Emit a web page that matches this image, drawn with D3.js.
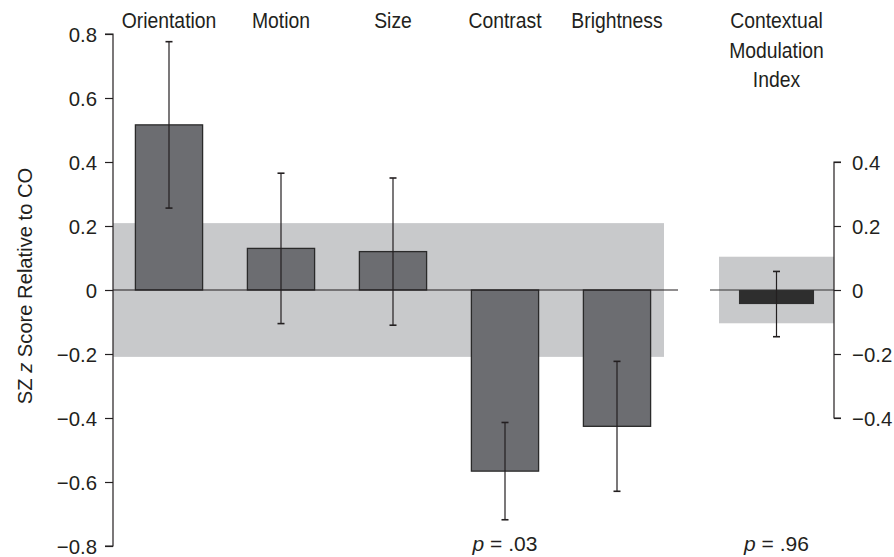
<!DOCTYPE html>
<html>
<head>
<meta charset="utf-8">
<script src="https://cdn.jsdelivr.net/npm/d3@7"></script>
<style>
  body { margin: 0; background: #fff; }
  svg text { font-family: "Liberation Sans", Arial, sans-serif; fill: #231f20; }
</style>
</head>
<body>
<div id="chart"></div>
<script>
// feature measures, SZ relative to CO
const categories = ["Orientation", "Motion", "Size", "Contrast", "Brightness"];
const means = [0.516, 0.13, 0.12, -0.566, -0.426];
const errors = [0.26, 0.235, 0.23, 0.152, 0.203];
const band = 0.209;          // shaded range on left panel

// contextual modulation index
const cmiLabel = ["Contextual", "Modulation", "Index"];
const cmiMean = -0.044;
const cmiError = 0.102;
const cmiBand = 0.104;

const leftTicks = [0.8, 0.6, 0.4, 0.2, 0, -0.2, -0.4, -0.6, -0.8];
const rightTicks = [0.4, 0.2, 0, -0.2, -0.4];
const pLabels = [{at: "Contrast", text: ".03"}, {at: "cmi", text: ".96"}];

const W = 894, H = 557;
const svg = d3.select("#chart").append("svg")
    .attr("width", W)
    .attr("height", H);

const y = d3.scaleLinear().domain([-0.8, 0.8]).range([546, 34]);
const x = d3.scaleBand().domain(categories).range([113, 673]).paddingInner(0.4).paddingOuter(0.2);
const xr = d3.scaleBand().domain(["cmi"]).range([719, 834]).padding(0.21);

const fmt = d => d === 0 ? "0" : d3.format(".1f")(d).replace("-", "\u2013");

// squeeze text a bit so it reads like a condensed face
function narrow(sel, k) {
  sel.each(function() {
    const w = this.getComputedTextLength();
    d3.select(this).attr("textLength", w * k).attr("lengthAdjust", "spacingAndGlyphs");
  });
}

// shaded bands
svg.append("rect")
    .attr("x", 113).attr("width", 664 - 113)
    .attr("y", y(band)).attr("height", y(-band) - y(band))
    .attr("fill", "#c8c9cb");
svg.append("rect")
    .attr("x", xr.range()[0]).attr("width", xr.range()[1] - xr.range()[0])
    .attr("y", y(cmiBand)).attr("height", y(-cmiBand) - y(cmiBand))
    .attr("fill", "#c8c9cb");

// bars
svg.append("g").selectAll("rect")
    .data(categories)
    .join("rect")
    .attr("x", d => x(d))
    .attr("width", x.bandwidth())
    .attr("y", (d, i) => y(Math.max(0, means[i])))
    .attr("height", (d, i) => Math.abs(y(means[i]) - y(0)))
    .attr("fill", "#6c6d71")
    .attr("stroke", "#2a2a2a")
    .attr("stroke-width", 1.3);

svg.append("rect")
    .attr("x", xr("cmi"))
    .attr("width", xr.bandwidth())
    .attr("y", y(0))
    .attr("height", y(cmiMean) - y(0))
    .attr("fill", "#2e2e2e");

// zero lines
svg.append("line")
    .attr("x1", 113).attr("x2", 678)
    .attr("y1", y(0)).attr("y2", y(0))
    .attr("stroke", "#231f20").attr("stroke-width", 1.2);
svg.append("line")
    .attr("x1", 710).attr("x2", 834)
    .attr("y1", y(0)).attr("y2", y(0))
    .attr("stroke", "#333").attr("stroke-width", 1.2);

// error bars
const errData = categories.map((c, i) => ({cx: x(c) + x.bandwidth() / 2, m: means[i], e: errors[i]}));
errData.push({cx: xr("cmi") + xr.bandwidth() / 2, m: cmiMean, e: cmiError});

const eg = svg.append("g").attr("stroke", "#231f20").attr("stroke-width", 1.2);
eg.selectAll("line.v").data(errData).join("line")
    .attr("x1", d => d.cx).attr("x2", d => d.cx)
    .attr("y1", d => y(d.m + d.e)).attr("y2", d => y(d.m - d.e));
eg.selectAll("line.hi").data(errData).join("line")
    .attr("x1", d => d.cx - 3.5).attr("x2", d => d.cx + 3.5)
    .attr("y1", d => y(d.m + d.e)).attr("y2", d => y(d.m + d.e))
    .attr("stroke-width", 1.6);
eg.selectAll("line.lo").data(errData).join("line")
    .attr("x1", d => d.cx - 3.5).attr("x2", d => d.cx + 3.5)
    .attr("y1", d => y(d.m - d.e)).attr("y2", d => y(d.m - d.e))
    .attr("stroke-width", 1.6);

// left axis
const leftAxis = svg.append("g")
    .attr("transform", "translate(113,0)")
    .call(d3.axisLeft(y).tickValues(leftTicks).tickFormat(fmt).tickSize(8).tickPadding(8));
leftAxis.select(".domain").attr("d", `M-8,${y(0.8)}H0V${y(-0.8)}H-8`).attr("stroke", "#231f20").attr("stroke-width", 1.2);
leftAxis.selectAll(".tick line").attr("stroke", "#231f20").attr("stroke-width", 1.2);
leftAxis.selectAll(".tick text").attr("font-size", 21).attr("dy", "0.36em");
leftAxis.attr("font-family", null);

// right axis
const rightAxis = svg.append("g")
    .attr("transform", "translate(834,0)")
    .call(d3.axisRight(y).tickValues(rightTicks).tickFormat(fmt).tickSize(7).tickPadding(11));
rightAxis.select(".domain").attr("d", `M7,${y(0.4)}H0V${y(-0.4)}H7`).attr("stroke", "#231f20").attr("stroke-width", 1.2);
rightAxis.selectAll(".tick line").attr("stroke", "#231f20").attr("stroke-width", 1.2);
rightAxis.selectAll(".tick text").attr("font-size", 21).attr("dy", "0.36em");
rightAxis.attr("font-family", null);

narrow(leftAxis.selectAll(".tick text"), 0.97);
narrow(rightAxis.selectAll(".tick text"), 0.97);

// y label
svg.append("text")
    .attr("transform", `translate(32,${y(0) - 4}) rotate(-90)`)
    .attr("text-anchor", "middle")
    .attr("font-size", 21)
    .html('SZ <tspan font-style="italic">z</tspan> Score Relative to CO')
    .call(narrow, 0.96);

// category labels
svg.append("g").selectAll("text")
    .data(categories)
    .join("text")
    .attr("x", d => x(d) + x.bandwidth() / 2)
    .attr("y", 28)
    .attr("text-anchor", "middle")
    .attr("font-size", 21.5)
    .text(d => d)
    .call(narrow, 0.9);

svg.append("g").selectAll("text")
    .data(cmiLabel)
    .join("text")
    .attr("x", xr("cmi") + xr.bandwidth() / 2)
    .attr("y", (d, i) => 28 + i * 29.5)
    .attr("text-anchor", "middle")
    .attr("font-size", 21.5)
    .text(d => d)
    .call(narrow, 0.9);

// p values
svg.append("g").selectAll("text")
    .data(pLabels)
    .join("text")
    .attr("x", d => d.at === "cmi" ? xr("cmi") + xr.bandwidth() / 2 : x(d.at) + x.bandwidth() / 2)
    .attr("y", 551)
    .attr("text-anchor", "middle")
    .attr("font-size", 21)
    .html(d => `<tspan font-style="italic">p</tspan> = ${d.text}`)
    .call(narrow, 1.0);
</script>
</body>
</html>
